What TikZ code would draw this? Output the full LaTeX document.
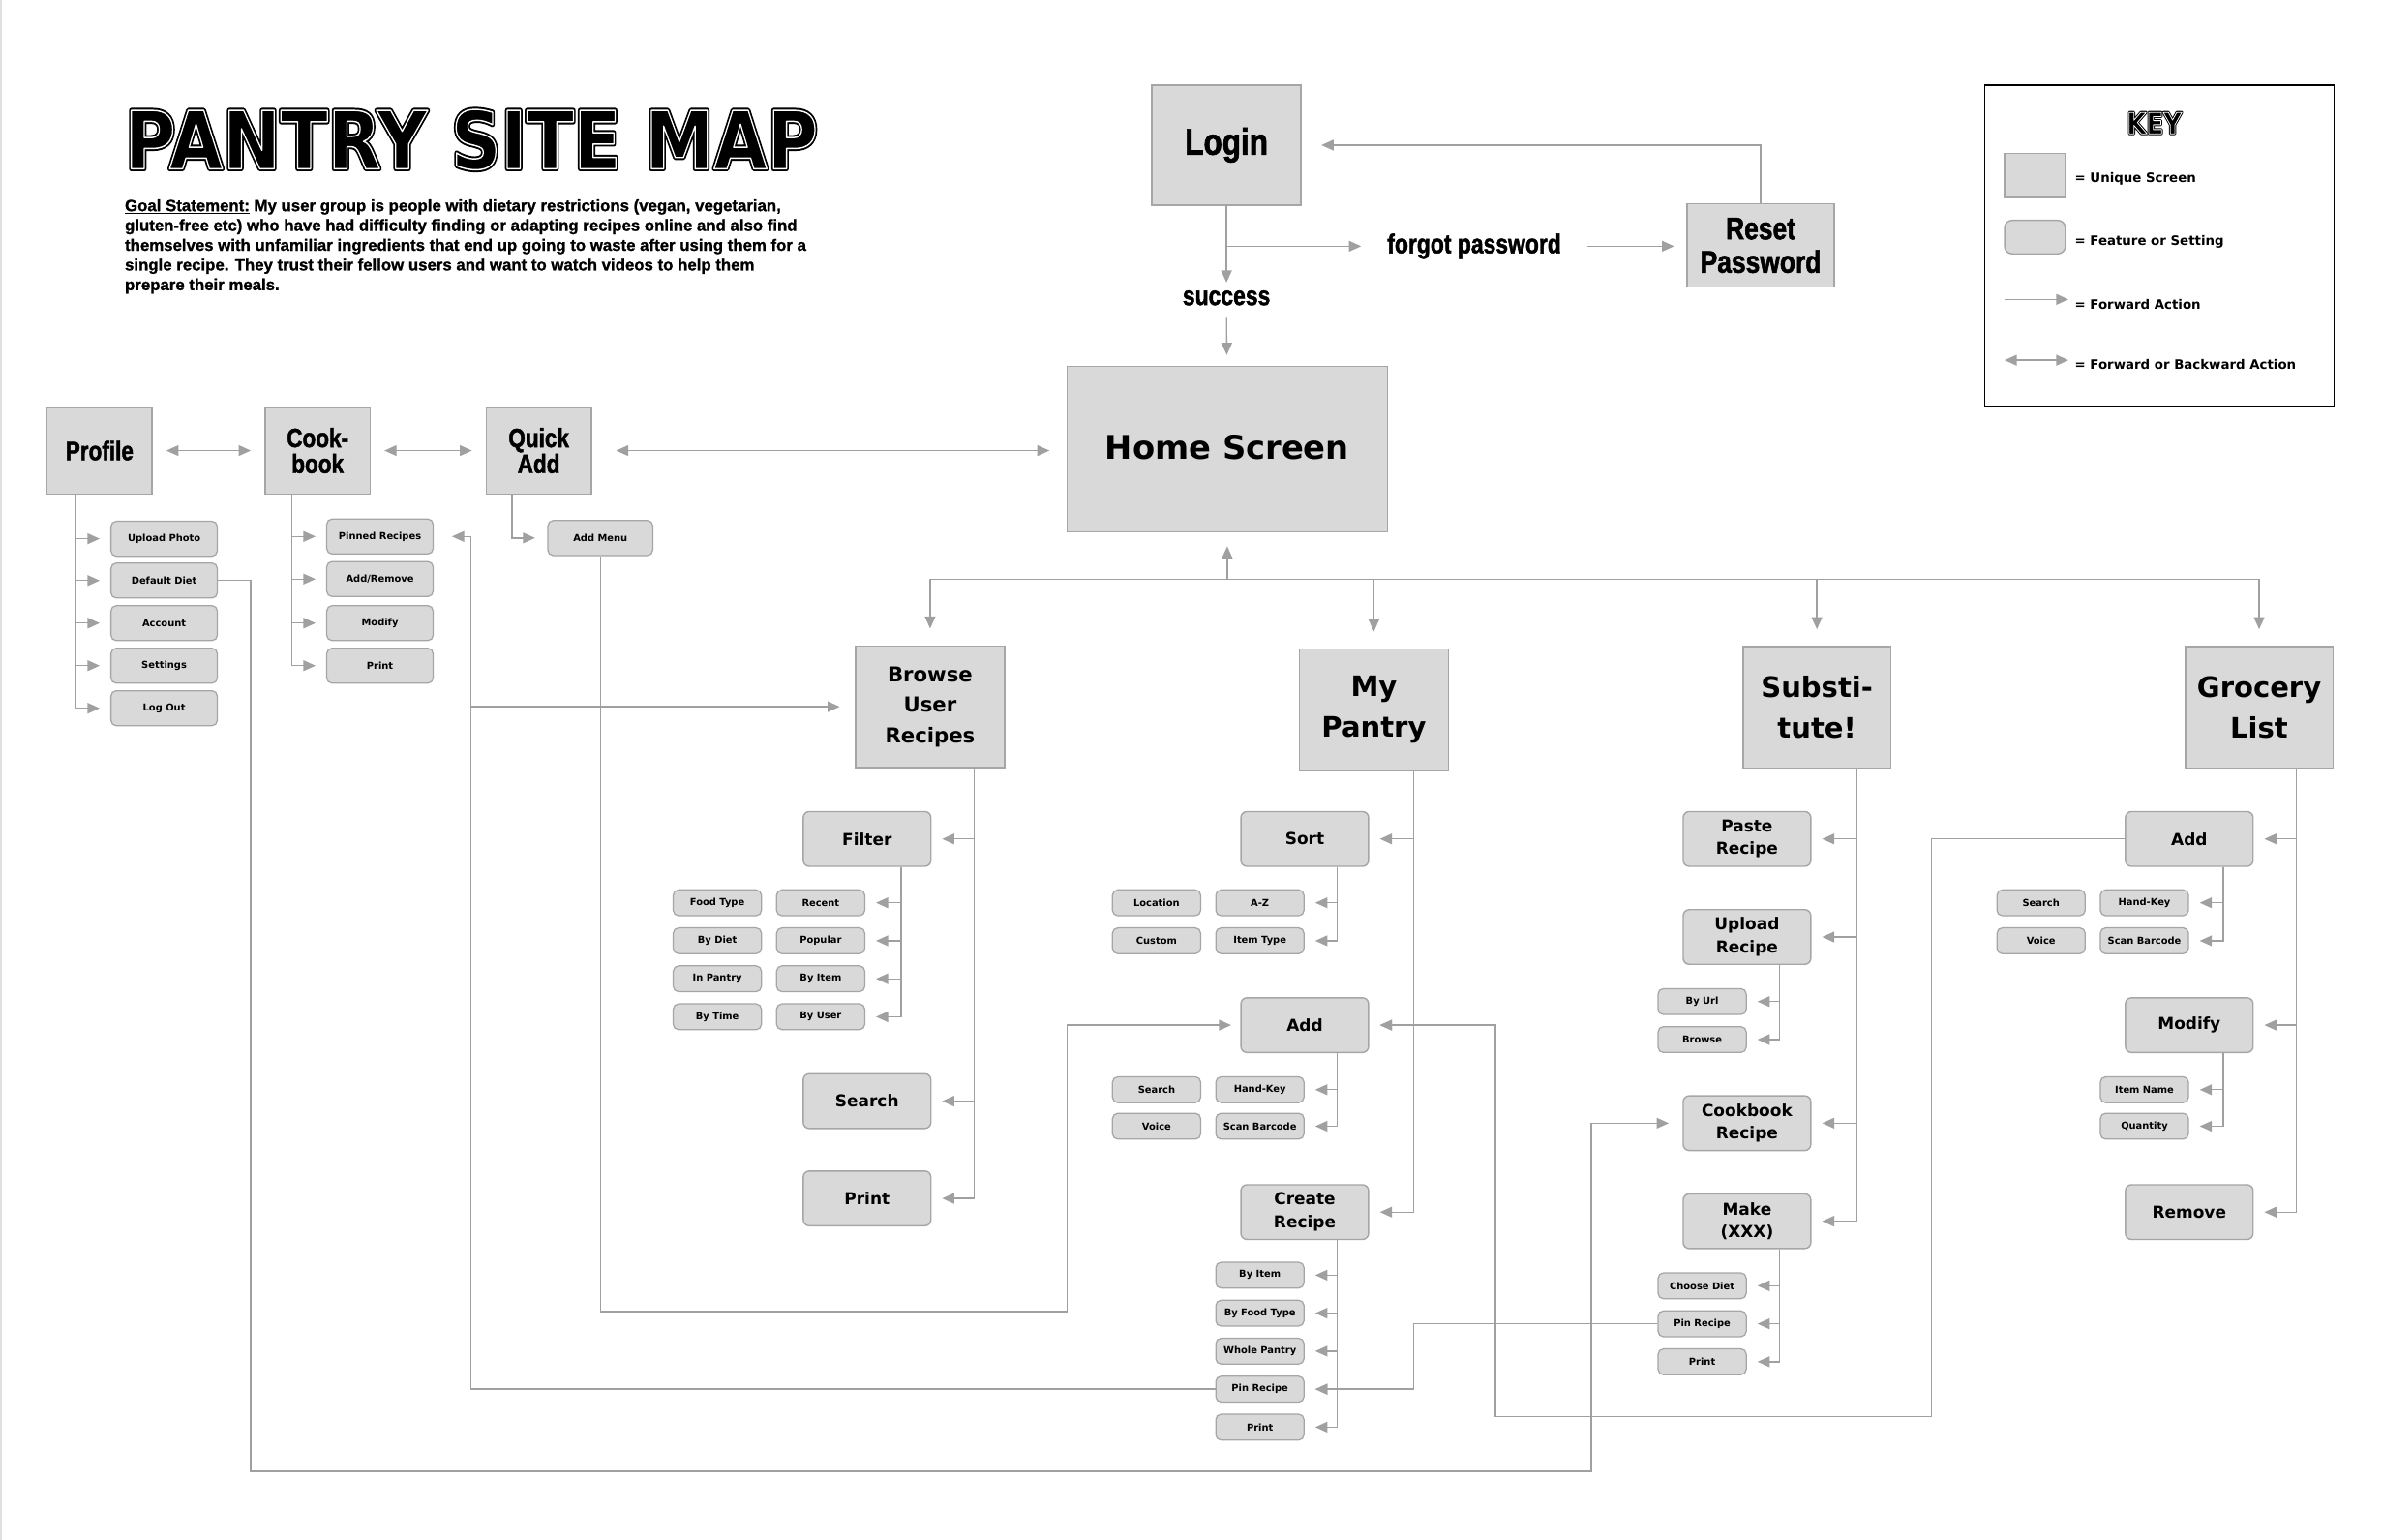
\documentclass[tikz,border=0pt]{standalone}
\usepackage{fontspec}
\setmainfont{DejaVu Sans}
\newfontfamily\narrowfont[FakeStretch=0.82, FakeBold=1.6]{Liberation Sans Bold}
\newfontfamily\goalfont[FakeStretch=1.0, FakeBold=1.2]{Liberation Sans Bold}
\usetikzlibrary{arrows.meta,positioning}
\definecolor{boxfill}{HTML}{D9D9D9}
\definecolor{boxline}{HTML}{A6A6A6}
\definecolor{linkgray}{HTML}{A0A0A0}
\newcommand{\fsz}[2]{\fontsize{#1}{#2}\selectfont}
\newcommand{\inlinetext}[4]{\resizebox{#2}{#3}{\special{pdf:literal direct #4}#1\special{pdf:literal direct 0 Tr}}}
\tikzset{
  >={Triangle[length=8pt,width=7pt]},
  screen/.style={
    rectangle,
    draw=boxline,
    fill=boxfill,
    line width=0.9,
    align=center,
    inner sep=0pt,
    font=\bfseries
  },
  topscreen/.style={
    screen,
    minimum width=69,
    minimum height=57,
    font=\narrowfont\fsz{17.5}{17}
  },
  mainscreen/.style={
    screen,
    minimum width=97,
    minimum height=80,
    font=\bfseries\fsz{18.5}{27}
  },
  feature/.style={
    screen,
    rounded corners=4,
    minimum width=84,
    minimum height=36,
    font=\bfseries\fsz{10.8}{15}
  },
  item/.style={
    screen,
    rounded corners=3.5,
    line width=0.8,
    minimum width=58,
    minimum height=17,
    font=\bfseries\fsz{6.3}{7}
  },
  wideitem/.style={
    item,
    minimum width=70,
    minimum height=23
  },
  flowtext/.style={
    inner sep=0pt,
    font=\narrowfont\fsz{17.8}{20}
  },
  keytext/.style={
    anchor=west,
    inner sep=0pt,
    font=\bfseries\fsz{8.5}{10}
  },
  arr/.style={
    ->,
    draw=linkgray,
    line width=0.85,
    shorten >=7pt
  },
  darr/.style={
    arr,
    <->
  }
}

\begin{document}
\begin{tikzpicture}[x=1pt,y=-1pt]
  \useasboundingbox (0,0) rectangle (1568,1013);
  \fill[white] (0,0) rectangle (1568,1013);
  \draw[black!12, line width=1] (0.5,0) -- (0.5,1013);

  % title, goal statement
  \node[anchor=base west, inner sep=0pt] (title) at (82,111) {\fsz{40}{40}\bfseries\inlinetext{PANTRY SITE MAP}{456pt}{39pt}{2 Tr 2.6 w 1 j}};
  \node[anchor=base west, inner sep=0pt, text=white] (titleinline) at (82,111) {\fsz{40}{40}\bfseries\inlinetext{PANTRY SITE MAP}{456pt}{39pt}{1 Tr 0.7 w 1 j}};
  \node[anchor=north west, inner sep=0pt, align=left, font=\goalfont\fsz{10.7}{13}] (goal) at (82,131) {\underline{Goal Statement:} My user group is people with dietary restrictions (vegan, vegetarian,\\
    gluten-free etc) who have had difficulty finding or adapting recipes online and also find\\
    themselves with unfamiliar ingredients that end up going to waste after using them for a\\
    single recipe. They trust their fellow users and want to watch videos to help them\\
    prepare their meals.};

  % key
  \node[draw=black, line width=0.9, minimum width=230, minimum height=211, inner sep=0pt] (keybox) at (1421,161.5) {};
  \node[anchor=base, inner sep=0pt] (keytitle) at (1417.5,88) {\fsz{14}{14}\bfseries\inlinetext{KEY}{36pt}{14pt}{2 Tr 1.4 w 1 j}};
  \node[anchor=base, inner sep=0pt, text=white] (keytitleinline) at (1417.5,88) {\fsz{14}{14}\bfseries\inlinetext{KEY}{36pt}{14pt}{1 Tr 0.4 w 1 j}};
  \node[screen, minimum width=40, minimum height=29] (keyscreen) at (1339,115.5) {};
  \node[keytext] (keyscreentext) at (1365,118) {= Unique Screen};
  \node[screen, rounded corners=5, minimum width=40, minimum height=22] (keyfeature) at (1339,156) {};
  \node[keytext] (keyfeaturetext) at (1365,159) {= Feature or Setting};
  \coordinate (keyfwd) at (1319,197);
  \node[keytext] (keyfwdtext) at (1365,200) {= Forward Action};
  \coordinate (keyboth) at (1319,237);
  \node[keytext] (keybothtext) at (1365,240) {= Forward or Backward Action};
  \draw[arr, shorten >=4pt] (keyfwd) -- (keyfwd -| keyfwdtext.west);
  \draw[darr, shorten >=4pt] (keyboth) -- (keyboth -| keybothtext.west);

  % login
  \node[screen, minimum width=98, minimum height=79, font=\narrowfont\fsz{24.5}{28}] (login) at (807,95.5) {Login};
  \node[screen, minimum width=97, minimum height=55, font=\narrowfont\fsz{20.5}{22}] (reset) at (1158.5,161.5) {Reset\\Password};
  \node[flowtext] (forgot) at (970,162) {forgot password};
  \node[flowtext] (success) at (807,196) {success};
  \node[screen, minimum width=211, minimum height=109, font=\bfseries\fsz{21.5}{26}] (home) at (807.5,295.5) {Home Screen\rule[-3pt]{0pt}{3pt}};

  \draw[arr, shorten >=5pt] (login) -- (success);
  \draw[arr, shorten <=8pt] (success) -- (home);
  \draw[arr, shorten >=17pt] (login.south |- forgot.west) -- (forgot.west);
  \draw[arr, shorten <=17pt, shorten >=8pt] (forgot.east) -- (forgot.east -| reset.west);
  \draw[arr, shorten >=13pt] (reset.north) |- (login.east);

  % profile, cookbook, quick add
  \node[topscreen] (profile) at (65.5,296.5) {Profile};
  \node[topscreen] (cookbook) at (209,296.5) {Cook-\\book};
  \node[topscreen] (quickadd) at (354.5,296.5) {Quick\\Add};
  \draw[darr, shorten <=9pt, shorten >=9pt] (profile) -- (cookbook);
  \draw[darr, shorten <=9pt, shorten >=9pt] (cookbook) -- (quickadd);
  \draw[darr, shorten <=16pt, shorten >=11pt] (quickadd.east) -- (quickadd.east -| home.west);

  \node[wideitem] (upphoto) at (108,354.5) {Upload Photo};
  \node[wideitem] (defdiet) at (108,382) {Default Diet};
  \node[wideitem] (account) at (108,410) {Account};
  \node[wideitem] (settings) at (108,438) {Settings};
  \node[wideitem] (logout) at (108,466) {Log Out};
  \foreach \sub in {upphoto,defdiet,account,settings,logout}
    \draw[arr] (profile.south) ++(-15.5,0) |- (\sub.west);

  \node[wideitem] (pinned) at (250,353) {Pinned Recipes};
  \node[wideitem] (addremove) at (250,381) {Add/Remove};
  \node[wideitem] (cbmodify) at (250,410) {Modify};
  \node[wideitem] (cbprint) at (250,438) {Print};
  \foreach \sub in {pinned,addremove,cbmodify,cbprint}
    \draw[arr] (cookbook.south) ++(-17,0) |- (\sub.west);

  \node[wideitem, minimum width=69] (addmenu) at (395,354) {Add Menu};
  \draw[arr, shorten >=8pt] (quickadd.south) ++(-17.5,0) |- (addmenu.west);

  % main screens
  \coordinate (hub) at (807.5,381);
  \node[mainscreen, font=\bfseries\fsz{13.5}{20}, minimum width=98] (browse) at (612,465) {Browse\\User\\Recipes};
  \node[mainscreen, minimum width=98] (pantry) at (904,467) {My\\Pantry};
  \node[mainscreen, minimum height=80] (subst) at (1195.5,465.5) {Substi-\\tute!};
  \node[mainscreen] (grocery) at (1486.5,465.5) {Grocery\\List};
  \draw[arr, shorten >=9pt] (hub) -- (home.south);
  \foreach \scr in {browse,pantry,subst,grocery}
    \draw[arr, shorten >=11pt] (hub) -| (\scr.north);

  % browse user recipes
  \node[feature] (filter) at (570.5,552) {Filter};
  \node[feature] (bsearch) at (570.5,724.5) {Search};
  \node[feature] (bprint) at (570.5,788.5) {Print};
  \foreach \sub in {filter,bsearch,bprint}
    \draw[arr] (browse.south) ++(29,0) |- (\sub.east);
  \node[item] (ffood) at (472,594) {Food Type};
  \node[item] (fdiet) at (472,619) {By Diet};
  \node[item] (fpantry) at (472,644) {In Pantry};
  \node[item] (ftime) at (472,669) {By Time};
  \node[item] (frecent) at (540,594) {Recent};
  \node[item] (fpopular) at (540,619) {Popular};
  \node[item] (fbyitem) at (540,644) {By Item};
  \node[item] (fbyuser) at (540,669) {By User};
  \foreach \sub in {frecent,fpopular,fbyitem,fbyuser}
    \draw[arr] (filter.south) ++(22.5,0) |- (\sub.east);

  % my pantry
  \node[feature] (sort) at (858.5,552) {Sort};
  \node[feature] (padd) at (858.5,674.5) {Add};
  \node[feature] (create) at (858.5,797.5) {Create\\Recipe};
  \foreach \sub in {sort,padd,create}
    \draw[arr] (pantry.south) ++(26,0) |- (\sub.east);
  \node[item] (sloc) at (761,594) {Location};
  \node[item] (scustom) at (761,619) {Custom};
  \node[item] (saz) at (829,594) {A-Z};
  \node[item] (stype) at (829,619) {Item Type};
  \foreach \sub in {saz,stype}
    \draw[arr] (sort.south) ++(21.5,0) |- (\sub.east);
  \node[item] (psearch) at (761,717) {Search};
  \node[item] (pvoice) at (761,741) {Voice};
  \node[item] (phand) at (829,717) {Hand-Key};
  \node[item] (pscan) at (829,741) {Scan Barcode};
  \foreach \sub in {phand,pscan}
    \draw[arr] (padd.south) ++(21.5,0) |- (\sub.east);
  \node[item] (cbyitem) at (829,839) {By Item};
  \node[item] (cfood) at (829,864) {By Food Type};
  \node[item] (cwhole) at (829,889) {Whole Pantry};
  \node[item] (ppin) at (829,914) {Pin Recipe};
  \node[item] (cprint) at (829,939) {Print};
  \foreach \sub in {cbyitem,cfood,cwhole,ppin,cprint}
    \draw[arr] (create.south) ++(21.5,0) |- (\sub.east);

  % substitute
  \node[feature] (paste) at (1149.5,552) {Paste\\Recipe};
  \node[feature] (upload) at (1149.5,616.5) {Upload\\Recipe};
  \node[feature] (cookrec) at (1149.5,739) {Cookbook\\Recipe};
  \node[feature] (make) at (1149.5,803.5) {Make\\(XXX)};
  \foreach \sub in {paste,upload,cookrec,make}
    \draw[arr] (subst.south) ++(26.5,0) |- (\sub.east);
  \node[item] (byurl) at (1120,659) {By Url};
  \node[item] (ubrowse) at (1120,684) {Browse};
  \foreach \sub in {byurl,ubrowse}
    \draw[arr] (upload.south) ++(21.5,0) |- (\sub.east);
  \node[item] (mdiet) at (1120,846) {Choose Diet};
  \node[item] (spin) at (1120,871) {Pin Recipe};
  \node[item] (mprint) at (1120,896) {Print};
  \foreach \sub in {mdiet,spin,mprint}
    \draw[arr] (make.south) ++(21.5,0) |- (\sub.east);

  % grocery list
  \node[feature] (gadd) at (1440.5,552) {Add};
  \node[feature] (modify) at (1440.5,674.5) {Modify};
  \node[feature] (remove) at (1440.5,797.5) {Remove};
  \foreach \sub in {gadd,modify,remove}
    \draw[arr] (grocery.south) ++(24.5,0) |- (\sub.east);
  \node[item] (gsearch) at (1343,594) {Search};
  \node[item] (gvoice) at (1343,619) {Voice};
  \node[item] (ghand) at (1411,594) {Hand-Key};
  \node[item] (gscan) at (1411,619) {Scan Barcode};
  \foreach \sub in {ghand,gscan}
    \draw[arr] (gadd.south) ++(22.5,0) |- (\sub.east);
  \node[item] (mname) at (1411,717) {Item Name};
  \node[item] (mqty) at (1411,741) {Quantity};
  \foreach \sub in {mname,mqty}
    \draw[arr] (modify.south) ++(22.5,0) |- (\sub.east);

  % cross links
  \coordinate (pinlane) at (310,914);
  \draw[arr, shorten >=12pt] (ppin.west) -- (pinlane) |- (pinned.east);
  \draw[arr, shorten >=10pt] (pinlane |- browse.west) -- (browse.west);
  \coordinate (spinturn) at (930,871);
  \draw[arr] (spin.west) -- (spinturn) |- (ppin.east);
  \coordinate (menulow) at (702,863);
  \draw[arr, shorten >=6pt] (addmenu.south) |- (menulow) |- (padd.west);
  \coordinate (dietlow) at (165,968);
  \coordinate (dietturn) at (1047,968);
  \draw[arr, shorten >=9pt] (defdiet.east) -| (dietlow) -- (dietturn) |- (cookrec.west);
  \coordinate (grolow) at (1271,932);
  \coordinate (groturn) at (984,932);
  \draw[arr] (gadd.west) -| (grolow) -- (groturn) |- (padd.east);
\end{tikzpicture}
\end{document}
